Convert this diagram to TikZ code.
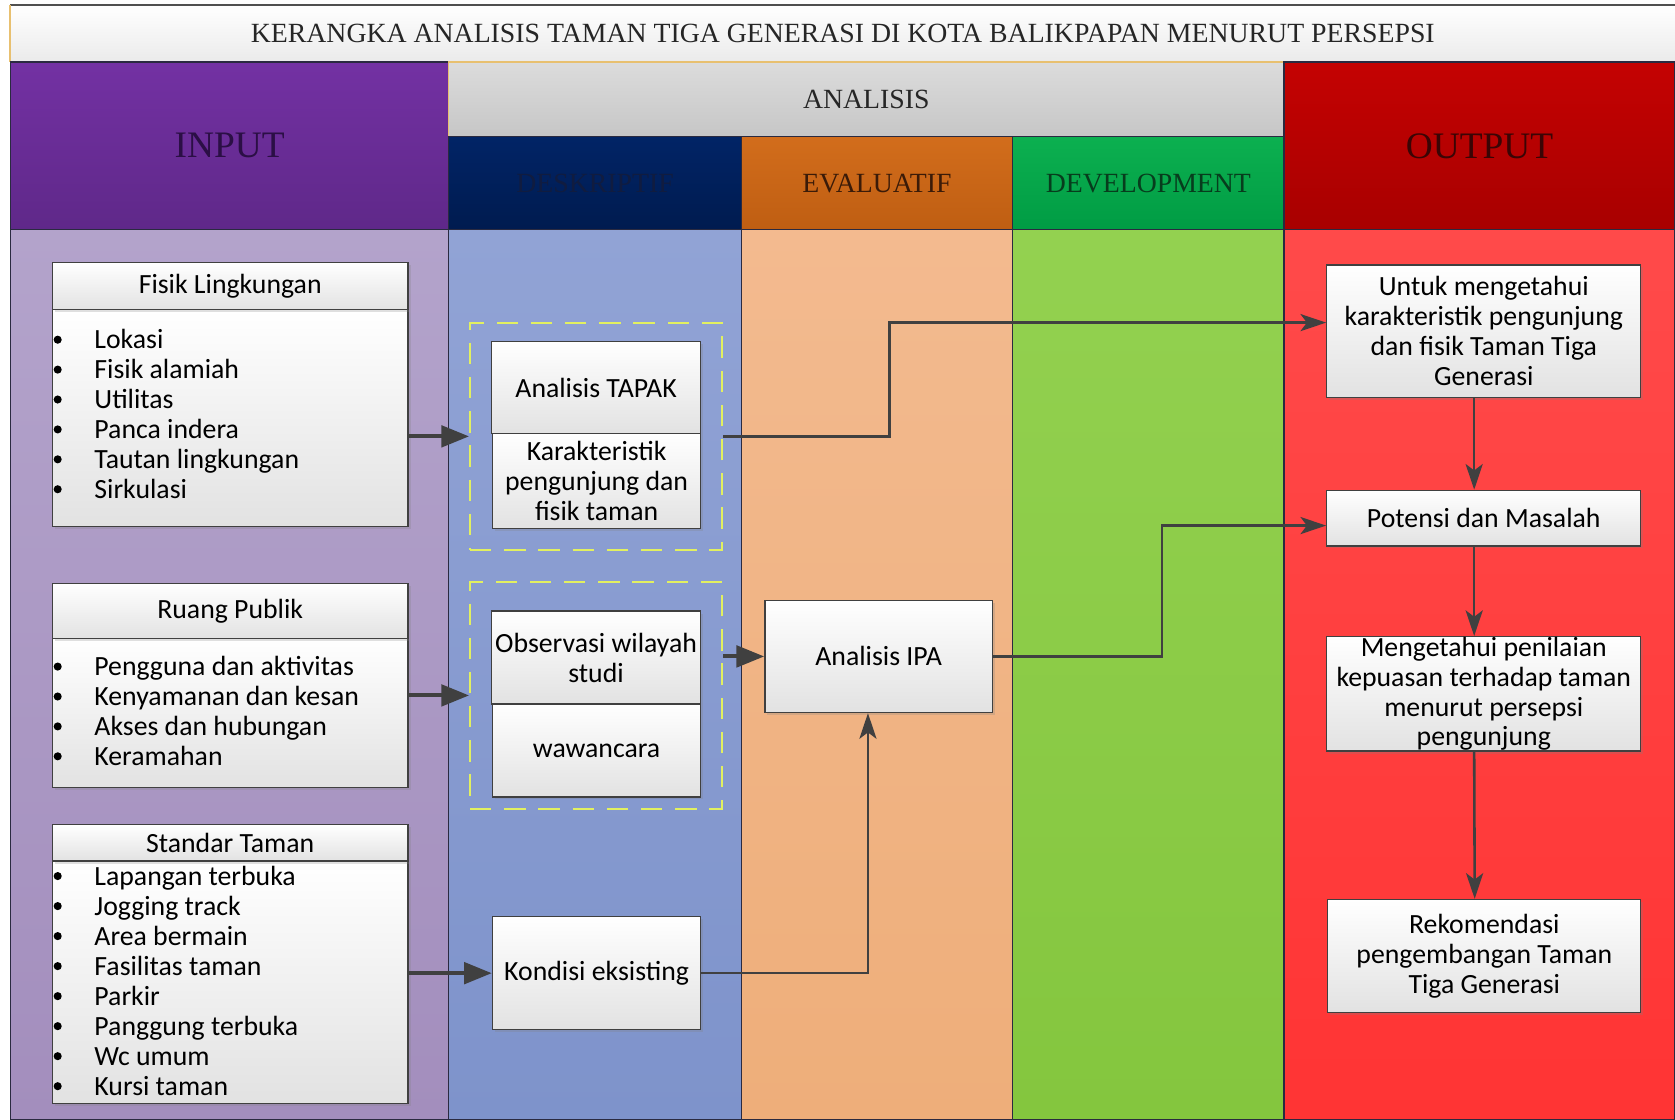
\documentclass[tikz,border=0pt]{standalone}
\usepackage{fontspec}
\setmainfont{Liberation Serif}
\newfontfamily\cardfamily{Carlito}
\usetikzlibrary{arrows.meta,calc,shadows}

% column and box colours
\definecolor{inhead1}{HTML}{7331A3}\definecolor{inhead2}{HTML}{5F2889}
\definecolor{anhead1}{HTML}{DCDCDC}\definecolor{anhead2}{HTML}{C6C6C6}
\definecolor{dehead1}{HTML}{012466}\definecolor{dehead2}{HTML}{001B4F}
\definecolor{evhead1}{HTML}{D26D1C}\definecolor{evhead2}{HTML}{BF5E12}
\definecolor{dvhead1}{HTML}{0CB050}\definecolor{dvhead2}{HTML}{009C44}
\definecolor{ouhead1}{HTML}{C40202}\definecolor{ouhead2}{HTML}{A80000}
\definecolor{inbody1}{HTML}{B3A3CB}\definecolor{inbody2}{HTML}{A38EBD}
\definecolor{debody1}{HTML}{91A3D5}\definecolor{debody2}{HTML}{7E93CB}
\definecolor{evbody1}{HTML}{F3BA8F}\definecolor{evbody2}{HTML}{EEAE7A}
\definecolor{dvbody1}{HTML}{93D150}\definecolor{dvbody2}{HTML}{84C63E}
\definecolor{oubody1}{HTML}{FF4A4A}\definecolor{oubody2}{HTML}{FF3434}
\definecolor{intext}{HTML}{2B0F45}
\definecolor{detext}{HTML}{101C40}
\definecolor{evtext}{HTML}{3B1B08}
\definecolor{dvtext}{HTML}{073D1D}
\definecolor{outext}{HTML}{3A0505}
\definecolor{bandline}{HTML}{2A2A40}
\definecolor{boxline}{HTML}{404040}
\definecolor{boxgray}{HTML}{E2E2E2}
\definecolor{arrowgray}{HTML}{404040}
\definecolor{dashyellow}{HTML}{E2F060}
\definecolor{titleline}{HTML}{505050}
\definecolor{goldline}{HTML}{E8C070}

\newcommand\cardfont{\cardfamily\fontsize{13}{14}\selectfont}

\begin{document}
\begin{tikzpicture}[x=0.5pt,y=-0.5pt,
  % a node spanning the rectangle with corners (#1,#2) and (#3,#4)
  span/.style n args={4}{at={({(#1+#3)/2},{(#2+#4)/2})},
    minimum width={(#3-#1)*0.5pt}, minimum height={(#4-#2)*0.5pt}},
  band/.style={draw=bandline, line width=0.7pt, inner sep=0pt, shading=axis},
  headtext/.style={font=\fontsize{13}{15}\selectfont},
  bigtext/.style={font=\fontsize{17.5}{20}\selectfont},
  card/.style={draw=boxline, line width=0.6pt, top color=white, bottom color=boxgray,
    inner sep=0pt, align=center, font=\cardfont,
    drop shadow={shadow xshift=1.2pt, shadow yshift=-1.2pt, opacity=0.25}},
  item/.style={anchor=west, inner sep=0pt, font=\cardfont, text height=8.6pt, text depth=0pt},
  group/.style={draw=dashyellow, line width=0.9pt, dash pattern=on 10pt off 6pt, inner sep=0pt},
  fat/.style={draw=arrowgray, line width=1.9pt, -{Triangle[length=13pt,width=10pt]}},
  slim/.style={draw=arrowgray, line width=1.2pt, -{Stealth[length=12pt,width=8pt,inset=3pt]}}
]
\useasboundingbox (0,0) rectangle (1568,1048);

% ---- title bar ----
\node[inner sep=0pt, top color=white, bottom color=black!8, shading=axis,
      span={10}{5}{1568}{58}, headtext, text=black!85] (title)
  {KERANGKA ANALISIS TAMAN TIGA GENERASI DI KOTA BALIKPAPAN MENURUT PERSEPSI};
\draw[titleline, line width=1pt] (title.north west) -- (title.north east);
\draw[goldline, line width=1pt] (title.north west) -- (title.south west);

% ---- column bodies ----
\node[band, top color=inbody1, bottom color=inbody2, span={10}{215}{420}{1048}] (inbody) {};
\node[band, top color=debody1, bottom color=debody2, span={420}{215}{694}{1048}] (debody) {};
\node[band, top color=evbody1, bottom color=evbody2, span={694}{215}{948}{1048}] (evbody) {};
\node[band, top color=dvbody1, bottom color=dvbody2, span={948}{215}{1202}{1048}] (dvbody) {};
\node[band, top color=oubody1, bottom color=oubody2, span={1202}{215}{1568}{1048}] (oubody) {};

% ---- column headers ----
\node[band, top color=inhead1, bottom color=inhead2, span={10}{58}{420}{215},
      bigtext, text=intext] (inhead) {INPUT};
\node[band, draw=goldline, top color=anhead1, bottom color=anhead2, span={420}{58}{1202}{128},
      headtext, text=black!85] (anhead) {ANALISIS};
\node[band, top color=dehead1, bottom color=dehead2, span={420}{128}{694}{215},
      headtext, text=detext] (dehead) {DESKRIPTIF};
\node[band, top color=evhead1, bottom color=evhead2, span={694}{128}{948}{215},
      headtext, text=evtext] (evhead) {EVALUATIF};
\node[band, top color=dvhead1, bottom color=dvhead2, span={948}{128}{1202}{215},
      headtext, text=dvtext] (dvhead) {DEVELOPMENT};
\node[band, top color=ouhead1, bottom color=ouhead2, span={1202}{58}{1568}{215},
      bigtext, text=outext] (ouhead) {OUTPUT};

% ---- input lists ----
\node[card, span={49}{290}{382}{493}] (fisikbody) {};
\node[card, span={49}{246}{382}{290}] (fisik) {Fisik Lingkungan};
\foreach \t [count=\i] in {Lokasi, Fisik alamiah, Utilitas, Panca indera, Tautan lingkungan, Sirkulasi} {
  \fill (54,{290+28*\i}) circle (1.9pt);
  \node[item] (fisik-\i) at (88,{290+28*\i}) {\t};
}

\node[card, span={49}{598}{382}{737}] (ruangbody) {};
\node[card, span={49}{546}{382}{598}] (ruang) {Ruang Publik};
\foreach \t [count=\i] in {Pengguna dan aktivitas, Kenyamanan dan kesan, Akses dan hubungan, Keramahan} {
  \fill (54,{596+28*\i}) circle (1.9pt);
  \node[item] (ruang-\i) at (88,{596+28*\i}) {\t};
}

\node[card, span={49}{806}{382}{1033}] (standarbody) {};
\node[card, span={49}{772}{382}{806}] (standar) {Standar Taman};
\foreach \t [count=\i] in {Lapangan terbuka, Jogging track, Area bermain, Fasilitas taman, Parkir, Panggung terbuka, Wc umum, Kursi taman} {
  \fill (54,{792+28.1*\i}) circle (1.9pt);
  \node[item] (standar-\i) at (88,{792+28.1*\i}) {\t};
}

% ---- descriptive column ----
\node[group, span={440}{302}{676}{515}] (g1) {};
\node[card, span={460}{320}{656}{406}] (tapak) {Analisis TAPAK};
\node[card, span={461}{406}{656}{495}] (karak) {Karakteristik\\pengunjung dan\\fisik taman};

\node[group, span={440}{545}{676}{757}] (g2) {};
\node[card, span={460}{572}{656}{659}] (obs) {Observasi wilayah\\studi};
\node[card, span={461}{659}{656}{746}] (waw) {wawancara};

\node[card, span={461}{858}{656}{964}] (kondisi) {Kondisi eksisting};

% ---- evaluative column ----
\node[card, span={716}{562}{929}{667}] (ipa) {Analisis IPA};

% ---- output column ----
\node[card, span={1242}{248}{1536}{372}] (untuk)
  {Untuk mengetahui\\karakteristik pengunjung\\dan fisik Taman Tiga\\Generasi};
\node[card, span={1242}{459}{1536}{511}] (potensi) {Potensi dan Masalah};
\node[card, span={1242}{596}{1536}{703}] (nilai)
  {Mengetahui penilaian\\kepuasan terhadap taman\\menurut persepsi\\pengunjung};
\node[card, span={1243}{842}{1536}{948}] (rekom)
  {Rekomendasi\\pengembangan Taman\\Tiga Generasi};

% ---- connectors ----
\draw[fat] (fisikbody.east |- g1.west) -- (g1.west);
\draw[fat] (ruangbody.east |- g2.west) -- (g2.west);
\draw[fat] (standarbody.east |- kondisi.west) -- (kondisi.west);
\draw[fat] (g2.east |- ipa.west) -- (ipa.west);

\draw[slim] (g1.east) -- ++(156,0) |- ($(untuk.west)+(0,-8)$);
\draw[slim] (kondisi.east) -| ($(ipa.south)+(-10,0)$);
\draw[slim] (ipa.east) -- ++(158,0) |- ($(potensi.west)+(0,7)$);

\draw[slim] ($(untuk.south)+(-9,0)$) -- ($(potensi.north)+(-9,0)$);
\draw[slim] ($(potensi.south)+(-9,0)$) -- ($(nilai.north)+(-9,0)$);
\draw[slim] ($(nilai.south)+(-9,0)$) -- ($(rekom.north)+(-9,0)$);
\end{tikzpicture}
\end{document}
